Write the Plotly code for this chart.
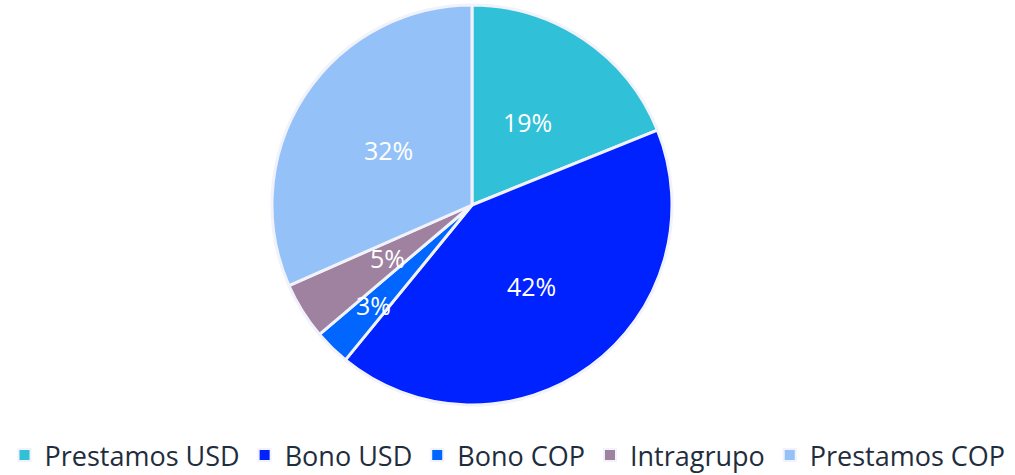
import math
import plotly.graph_objects as go

labels = ["Prestamos USD", "Bono USD", "Bono COP", "Intragrupo", "Prestamos COP"]
values = [18.9, 42.0, 2.9, 4.6, 31.6]
colors = ["#30C0D8", "#0022FF", "#0066FF", "#9E82A0", "#94C2F8"]
label_radius = [0.5, 0.5, 0.7, 0.5, 0.5]

W, H = 1015, 475
ml, mr, mt, mb = 0, 0, 5, 70
dom_x = [0, 0.93]
pw, ph = W - ml - mr, H - mt - mb
R = min(pw * (dom_x[1] - dom_x[0]), ph) / 2
cx = pw * (dom_x[0] + dom_x[1]) / 2
cy = ph / 2

fig = go.Figure(go.Pie(
    labels=labels, values=values, sort=False, direction="clockwise", rotation=0,
    marker=dict(colors=colors, line=dict(color="#F2F2FA", width=3)),
    textinfo="none", hoverinfo="label+percent",
    domain=dict(x=dom_x, y=[0, 1]),
))

total = sum(values)
cum = 0
ann = []
for lab, v, rr in zip(labels, values, label_radius):
    mid = (cum + v / 2) / total * 2 * math.pi
    cum += v
    px = cx + rr * R * math.sin(mid)
    py = cy + rr * R * math.cos(mid)
    ann.append(dict(x=px / pw, y=py / ph, xref="paper", yref="paper",
                    xanchor="center", yanchor="middle",
                    text=f"{round(v / total * 100)}%", showarrow=False,
                    font=dict(size=25, color="white", family="Open Sans")))

fig.update_layout(
    width=W, height=H, margin=dict(l=ml, r=mr, t=mt, b=mb, autoexpand=False),
    paper_bgcolor="white", plot_bgcolor="white",
    annotations=ann,
    legend=dict(orientation="h", x=0.5, xanchor="center", y=-0.065, yanchor="top",
                font=dict(size=27, color="#1F2D3D", family="Open Sans"),
                itemsizing="constant", traceorder="normal"),
)
fig.write_html("out.html", config={"displayModeBar": False},
               post_script="document.body.style.margin='0';")
